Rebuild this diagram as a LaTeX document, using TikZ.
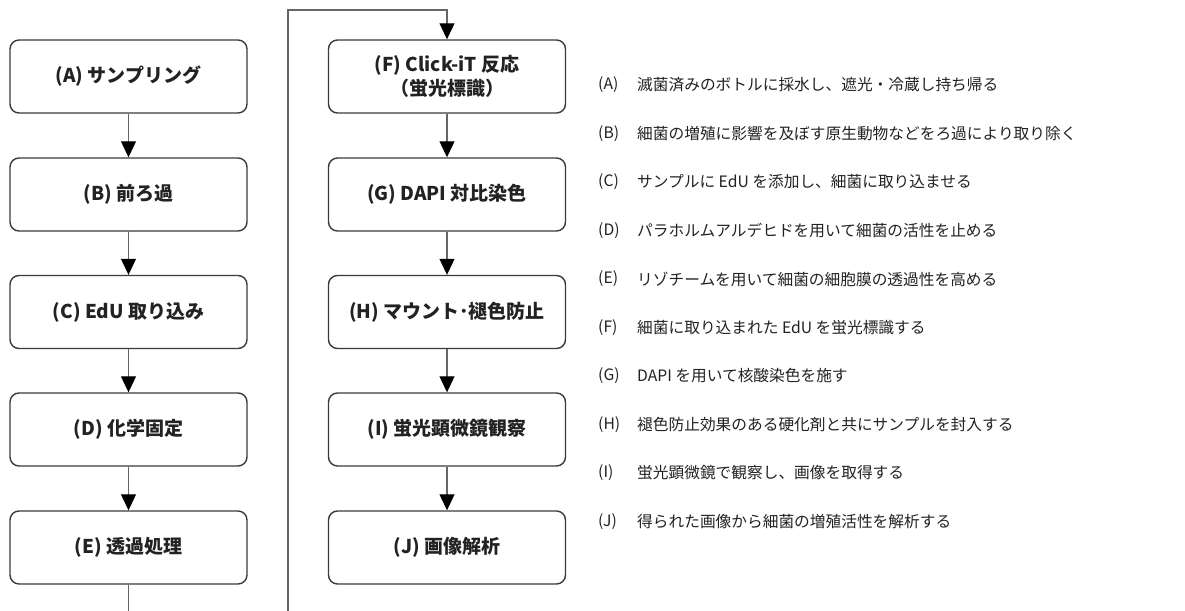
\documentclass[tikz,border=0pt]{standalone}
\usepackage{fontspec}
\usetikzlibrary{arrows.meta}
\newfontfamily\jp{Noto Sans CJK JP}
\definecolor{boxc}{HTML}{3A3A3A}
\definecolor{linec}{HTML}{666666}
\definecolor{txtc}{HTML}{222222}
\begin{document}
\begin{tikzpicture}[x=1pt,y=-1pt,
  stepbox/.style={draw=boxc, line width=1.4pt, rounded corners=9pt, minimum width=237pt, minimum height=73pt, inner sep=0pt, align=center, font=\jp\bfseries\fontsize{19}{24}\selectfont, text=txtc},
  flow/.style={draw=linec, line width=1.1pt, -{Triangle[width=15pt,length=16pt,black]}},
  lab/.style={anchor=west, inner sep=0pt, font=\jp\fontsize{15.7}{18}\selectfont, text=txtc},
]
\useasboundingbox (0,0) rectangle (1185,610);
% left column
\node[stepbox] (A) at (128.5,76.5) {(A) サンプリング};
\node[stepbox] (B) at (128.5,194.5) {(B) 前ろ過};
\node[stepbox] (C) at (128.5,312) {(C) EdU 取り込み};
\node[stepbox] (D) at (128.5,429.5) {(D) 化学固定};
\node[stepbox] (E) at (128.5,547.5) {(E) 透過処理};
% right column
\node[stepbox] (F) at (447,76.5) {(F) Click-iT 反応\\（蛍光標識）};
\node[stepbox] (G) at (447,194.5) {(G) DAPI 対比染色};
\node[stepbox] (H) at (447,312) {(H) マウント･褪色防止};
\node[stepbox] (I) at (447,429.5) {(I) 蛍光顕微鏡観察};
\node[stepbox] (J) at (447,547.5) {(J) 画像解析};
% connectors
\draw[flow] (A) -- (B);
\draw[flow] (B) -- (C);
\draw[flow] (C) -- (D);
\draw[flow] (D) -- (E);
\draw[flow] (F) -- (G);
\draw[flow] (G) -- (H);
\draw[flow] (H) -- (I);
\draw[flow] (I) -- (J);
\coordinate (c1) at (288,616);
\coordinate (c2) at (288,10);
\draw[flow] (E.south) |- (c1) -- (c2) -| (F.north);
% descriptions
\foreach \k/\y/\t in {
  A/85/滅菌済みのボトルに採水し、遮光・冷蔵し持ち帰る,
  B/133.5/細菌の増殖に影響を及ぼす原生動物などをろ過により取り除く,
  C/182/サンプルに EdU を添加し、細菌に取り込ませる,
  D/230.5/パラホルムアルデヒドを用いて細菌の活性を止める,
  E/279/リゾチームを用いて細菌の細胞膜の透過性を高める,
  F/327.5/細菌に取り込まれた EdU を蛍光標識する,
  G/376/DAPI を用いて核酸染色を施す,
  H/424.5/褪色防止効果のある硬化剤と共にサンプルを封入する,
  I/473/蛍光顕微鏡で観察し、画像を取得する,
  J/521.5/得られた画像から細菌の増殖活性を解析する}{
  \node[lab] (l\k) at (598,\y) {(\k)};
  \node[lab] (d\k) at (637,\y) {\t};
}
\end{tikzpicture}
\end{document}
